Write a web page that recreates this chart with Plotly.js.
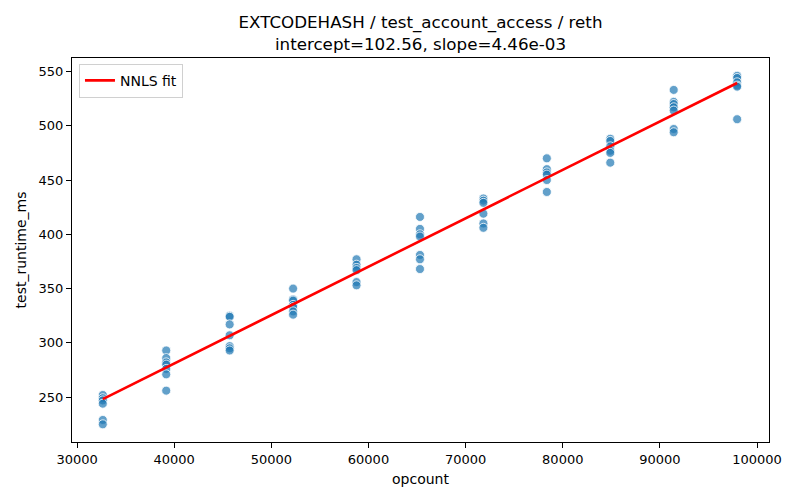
<!DOCTYPE html>
<html>
<head>
<meta charset="utf-8">
<script src="https://cdn.plot.ly/plotly-3.0.1.min.js"></script>
<style>
  html, body { margin: 0; padding: 0; background: #fff; }
  #chart { width: 800px; height: 500px; }
</style>
</head>
<body>
<div id="chart"></div>
<script>
// opcount levels (x) and measured runtimes per level (y)
const opcounts = [32650, 39180, 45710, 52240, 58770, 65300, 71830, 78360, 84890, 91420, 97950];
const runtimes = [
    [252, 249, 247, 244, 229, 225],
    [293, 286, 282, 280, 276, 271, 256],
    [325, 324, 317, 307, 297, 295, 293],
    [350, 340, 339, 335, 333, 329, 326],
    [377, 372, 369, 367, 356, 353],
    [416, 405, 400, 398, 381, 377, 368],
    [433, 431, 429, 419, 410, 406],
    [470, 460, 457, 455, 450, 439],
    [488, 486, 481, 477, 475, 466],
    [533, 522, 520, 517, 514, 497, 494],
    [546, 544, 540, 537, 536, 506],
];
// NNLS fit line end points
const fitX = [32650, 97950];
const fitY = [248.2, 539.4];
const titleLines = ['EXTCODEHASH / test_account_access / reth', 'intercept=102.56, slope=4.46e-03'];

// ----- flatten points -----
const xs = [], ys = [];
opcounts.forEach((x, i) => runtimes[i].forEach(y => { xs.push(x); ys.push(y); }));

const font = '"DejaVu Sans", sans-serif';
const axisCommon = {
    showgrid: false, zeroline: false,
    showline: true, linecolor: '#000', linewidth: 1, mirror: true,
    ticks: 'outside', ticklen: 5, tickwidth: 1, tickcolor: '#000',
    tickfont: { family: font, size: 13, color: '#000' },
};

Plotly.newPlot('chart', [
    {
        type: 'scatter', mode: 'markers', x: xs, y: ys, showlegend: false,
        marker: { color: 'rgba(31,119,180,0.7)', size: 9, line: { color: '#fff', width: 0.8 } },
    },
    {
        type: 'scatter', mode: 'lines', x: fitX, y: fitY, name: 'NNLS fit',
        line: { color: '#ff0000', width: 2.6 },
    },
], {
    width: 800, height: 500,
    paper_bgcolor: '#fff', plot_bgcolor: '#fff',
    font: { family: font, color: '#000' },
    margin: { l: 72, r: 31, t: 58, b: 58 },
    title: {
        text: titleLines.join('<br>'),
        font: { family: font, size: 16.7, color: '#000' },
        x: 0.5, xref: 'paper', xanchor: 'center',
        y: 1 - 28 / 500, yref: 'container', yanchor: 'top',
    },
    xaxis: {
        ...axisCommon, range: [29480, 101230], dtick: 10000, tick0: 0, tickformat: 'd',
        title: { text: 'opcount', font: { family: font, size: 14, color: '#000' }, standoff: 8 },
    },
    yaxis: {
        ...axisCommon, range: [208.7, 562.4], dtick: 50, tick0: 0,
        title: { text: 'test_runtime_ms', font: { family: font, size: 14, color: '#000' }, standoff: 8 },
    },
    showlegend: true,
    legend: {
        x: 0.01, y: 0.985, xanchor: 'left', yanchor: 'top',
        bgcolor: 'rgba(255,255,255,0.8)', bordercolor: '#d0d0d0', borderwidth: 1,
        font: { family: font, size: 14, color: '#000' },
    },
}, { displayModeBar: false, staticPlot: true });
</script>
</body>
</html>
